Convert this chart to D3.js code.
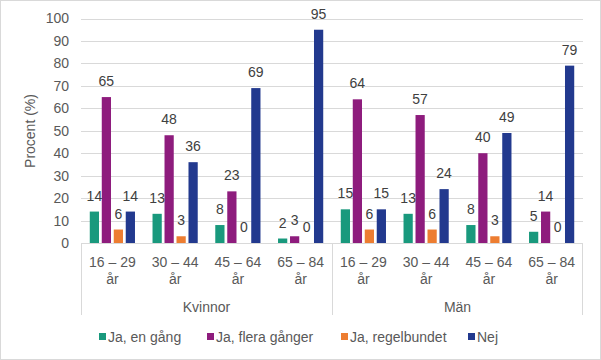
<!DOCTYPE html>
<html><head><meta charset="utf-8">
<script src="https://cdn.jsdelivr.net/npm/d3@7"></script>
<style>body{margin:0;background:#fff}svg{display:block;font-family:"Liberation Sans",Arial,sans-serif}</style>
</head><body><svg id="c" width="601" height="360"></svg>
<script>
const groups = ["Kvinnor", "Män"];
const ageGroups = ["16 – 29 år", "30 – 44 år", "45 – 64 år", "65 – 84 år"];
const seriesNames = ["Ja, en gång", "Ja, flera gånger", "Ja, regelbundet", "Nej"];
const seriesColors = ["#19997D", "#8E1C7D", "#ED7D31", "#22398E"];
const jaEnGang = [14, 13, 8, 2, 15, 13, 8, 5];
const jaFlera = [65, 48, 23, 3, 64, 57, 40, 14];
const jaRegel = [6, 3, 0, 0, 6, 6, 3, 0];
const nej = [14, 36, 69, 95, 15, 24, 49, 79];
const yTicks = [0, 10, 20, 30, 40, 50, 60, 70, 80, 90, 100];

const seriesValues = [jaEnGang, jaFlera, jaRegel, nej];
const cats = [];
groups.forEach(g => ageGroups.forEach(a => cats.push(g + "|" + a)));

const svg = d3.select("#c");
svg.append("rect").attr("x", 0.5).attr("y", 0.5).attr("width", 600).attr("height", 359)
  .attr("fill", "#fff").attr("stroke", "#d9d9d9");

const L = 81, R = 583, T = 18.5, B = 243;
const y = d3.scaleLinear().domain([0, 100]).range([B, T]);
const x0 = d3.scaleBand().domain(cats).range([L, R]).paddingInner(0).paddingOuter(0);
const x1 = d3.scaleBand().domain(seriesNames).range([0, 45.2]).paddingInner(0.23).paddingOuter(0);
const off = (x0.bandwidth() - 45.2) / 2;

// gridlines
svg.append("g").selectAll("line").data(yTicks.filter(d => d > 0)).join("line")
  .attr("x1", L).attr("x2", R).attr("y1", d => Math.round(y(d)) + 0.5).attr("y2", d => Math.round(y(d)) + 0.5)
  .attr("stroke", "#d9d9d9").attr("stroke-width", 1);

// y axis labels
const yAxis = d3.axisLeft(y).tickValues(yTicks).tickSize(0).tickPadding(12);
const gy = svg.append("g").attr("transform", `translate(${L},0)`).call(yAxis);
gy.select(".domain").remove();
gy.selectAll("text").attr("fill", "#595959").attr("font-size", 14).attr("font-family", "Liberation Sans, Arial, sans-serif");

svg.append("text").attr("transform", `translate(31,131) rotate(-90)`).attr("text-anchor", "middle")
  .attr("dominant-baseline", "middle").attr("fill", "#595959").attr("font-size", 14).text("Procent (%)");

// bars
const data = [];
seriesNames.forEach((s, si) => cats.forEach((c, ci) => data.push({ s, si, c, v: seriesValues[si][ci] })));
svg.append("g").selectAll("rect").data(data).join("rect")
  .attr("x", d => x0(d.c) + off + x1(d.s)).attr("width", x1.bandwidth())
  .attr("y", d => y(d.v)).attr("height", d => y(0) - y(d.v)).attr("fill", d => seriesColors[d.si]);

svg.append("g").selectAll("text").data(data).join("text")
  .attr("x", d => x0(d.c) + off + x1(d.s) + x1.bandwidth() / 2).attr("y", d => y(d.v) - 11)
  .attr("text-anchor", "middle").attr("fill", "#404040").attr("font-size", 14).text(d => d.v);

// category axis
const ax = svg.append("g").attr("stroke", "#d9d9d9").attr("stroke-width", 1);
ax.append("line").attr("x1", L).attr("x2", R).attr("y1", B + 0.5).attr("y2", B + 0.5);
groups.forEach(g => {
  const xx = Math.round(x0(g + "|" + ageGroups[0])) + 0.5;
  ax.append("line").attr("x1", xx).attr("x2", xx).attr("y1", B).attr("y2", 315);
});
ax.append("line").attr("x1", R - 0.5).attr("x2", R - 0.5).attr("y1", B).attr("y2", 315);

const lab = svg.append("g").attr("fill", "#595959").attr("font-size", 14).attr("text-anchor", "middle");
cats.forEach(c => {
  const [g, a] = c.split("|");
  const parts = a.split(" år");
  const cx = x0(c) + x0.bandwidth() / 2;
  lab.append("text").attr("x", cx).attr("y", 267).text(parts[0]);
  lab.append("text").attr("x", cx).attr("y", 284).text("år");
});
groups.forEach((g, gi) => {
  const first = x0(g + "|" + ageGroups[0]);
  const last = x0(g + "|" + ageGroups[3]) + x0.bandwidth();
  lab.append("text").attr("x", (first + last) / 2).attr("y", 312).text(g);
});

// legend
const legX = [99, 207, 341, 468];
const leg = svg.append("g");
seriesNames.forEach((s, i) => {
  leg.append("rect").attr("x", legX[i]).attr("y", 333).attr("width", 7).attr("height", 7).attr("fill", seriesColors[i]);
  leg.append("text").attr("x", legX[i] + 9).attr("y", 342).attr("fill", "#595959").attr("font-size", 14).text(s);
});
</script></body></html>
